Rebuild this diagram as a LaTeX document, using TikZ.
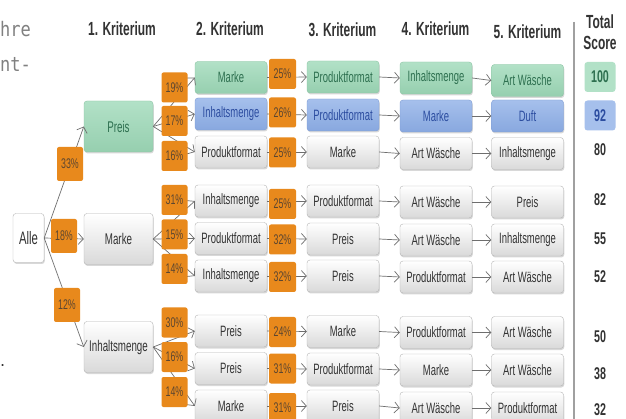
\documentclass[tikz,border=0pt]{standalone}
\usepackage{fontspec}
\setmainfont{Liberation Sans}[FakeStretch=0.63]
\newfontfamily\leftmono{DejaVu Sans Mono}[FakeStretch=0.85]
\newfontfamily\leftsans{DejaVu Sans}
\usetikzlibrary{arrows.meta,shadows}
\definecolor{linegray}{HTML}{6E6E6E}
\definecolor{boxborder}{HTML}{B4B4B4}
\definecolor{graybot}{HTML}{D9D9D9}
\definecolor{graytext}{HTML}{333333}
\definecolor{grntop}{HTML}{B2E1C7}
\definecolor{grnbot}{HTML}{96CFAF}
\definecolor{grnborder}{HTML}{8CC4A4}
\definecolor{grntext}{HTML}{2E7050}
\definecolor{blutop}{HTML}{A6C0EC}
\definecolor{blubot}{HTML}{88A8DF}
\definecolor{bluborder}{HTML}{7E9CD4}
\definecolor{blutext}{HTML}{2C4DA0}
\definecolor{orng}{HTML}{E8891C}
\definecolor{pcttext}{HTML}{5C4630}
\definecolor{sepgray}{HTML}{A0A0A0}
\definecolor{lefttext}{HTML}{808080}
\tikzset{
  base/.style={rounded corners=3pt, minimum width=72pt, minimum height=32pt, inner sep=1pt,
    font=\fontsize{15}{17}\selectfont,
    drop shadow={opacity=0.3,shadow xshift=0.8pt,shadow yshift=-1.5pt}},
  graybox/.style={base, draw=boxborder, top color=white, bottom color=graybot, text=graytext},
  greenbox/.style={base, draw=grnborder, top color=grntop, bottom color=grnbot, text=grntext},
  bluebox/.style={base, draw=bluborder, top color=blutop, bottom color=blubot, text=blutext},
  lonebox/.style={minimum width=69pt, minimum height=51pt, font=\fontsize{15.5}{17}\selectfont},
  pct/.style={fill=orng, rounded corners=2pt, minimum width=26pt, minimum height=30pt, inner sep=0pt,
    text=pcttext, font=\fontsize{14}{16}\selectfont},
  pctbig/.style={pct, minimum height=34pt},
  conn/.style={draw=linegray, line width=0.7pt, -{Straight Barb[length=5pt,width=11pt,line width=0.7pt]}},
  head/.style={font=\bfseries\fontsize{19}{21}\selectfont, text=graytext, anchor=base, inner sep=0pt},
  score/.style={font=\bfseries\fontsize{17}{19}\selectfont, text=graytext, inner sep=0pt},
  scorebox/.style={rounded corners=3pt, minimum width=31pt, minimum height=30pt, inner sep=0pt,
    font=\bfseries\fontsize{17}{19}\selectfont},
  lefttxt/.style={font=\leftmono\fontsize{20}{22}\selectfont, text=lefttext, anchor=base west, inner sep=0pt}
}
\begin{document}
\begin{tikzpicture}[x=1pt,y=-1pt]
\useasboundingbox (0,0) rectangle (626,419);
\fill[white] (0,0) rectangle (626,419);
% text at the left edge
\node[lefttxt] (lt1) at (0,37) {hre};
\node[lefttxt] (lt2) at (0,72) {nt-};
\node[lefttxt, font=\leftsans\fontsize{16}{18}\selectfont, text=graytext] (lt3) at (0,366) {.};
% headers
\node[head] (h1) at (122,36) {1. Kriterium};
\node[head] (h2) at (230,36) {2. Kriterium};
\node[head] (h3) at (342.5,36.5) {3. Kriterium};
\node[head] (h4) at (435.5,36) {4. Kriterium};
\node[head] (h5) at (527.5,39) {5. Kriterium};
\node[head] (ht1) at (600,29) {Total};
\node[head] (ht2) at (600,50) {Score};
% separator
\coordinate (sepT) at (574,22);
\coordinate (sepB) at (574,419);
\draw[sepgray, line width=1.2pt] (sepT) -- (sepB);
% root and level 1
\node[graybox, top color=white, bottom color=white, minimum width=31pt, minimum height=49pt, font=\fontsize{18}{20}\selectfont] (alle) at (28.5,238) {Alle};
\node[greenbox, lonebox] (p) at (118.5,126.5) {Preis};
\node[graybox, lonebox] (m) at (118.5,239) {Marke};
\node[graybox, lonebox] (i) at (118.5,347) {Inhaltsmenge};
% row 1
\node[greenbox] (r1b) at (231,77.5) {Marke};
\node[greenbox] (r1c) at (343,77) {Produktformat};
\node[greenbox] (r1d) at (436,78) {Inhaltsmenge};
\node[greenbox] (r1e) at (527.5,80.5) {Art Wäsche};
% row 2
\node[bluebox] (r2b) at (231,114) {Inhaltsmenge};
\node[bluebox] (r2c) at (343,115) {Produktformat};
\node[bluebox] (r2d) at (436,116) {Marke};
\node[bluebox] (r2e) at (527.5,116) {Duft};
% row 3
\node[graybox] (r3b) at (231,152) {Produktformat};
\node[graybox] (r3c) at (343,152) {Marke};
\node[graybox] (r3d) at (436,153.5) {Art Wäsche};
\node[graybox] (r3e) at (527.5,153.5) {Inhaltsmenge};
% row 4
\node[graybox] (r4b) at (231,201) {Inhaltsmenge};
\node[graybox] (r4c) at (343,201) {Produktformat};
\node[graybox] (r4d) at (436,202) {Art Wäsche};
\node[graybox] (r4e) at (527.5,202) {Preis};
% row 5
\node[graybox] (r5b) at (231,238.5) {Produktformat};
\node[graybox] (r5c) at (343,239) {Preis};
\node[graybox] (r5d) at (436,240) {Art Wäsche};
\node[graybox] (r5e) at (527.5,240) {Inhaltsmenge};
% row 6
\node[graybox] (r6b) at (231,276) {Inhaltsmenge};
\node[graybox] (r6c) at (343,276) {Preis};
\node[graybox] (r6d) at (436,277) {Produktformat};
\node[graybox] (r6e) at (527.5,277) {Art Wäsche};
% row 7
\node[graybox] (r7b) at (231,331) {Preis};
\node[graybox] (r7c) at (343,331.5) {Marke};
\node[graybox] (r7d) at (436,332.5) {Produktformat};
\node[graybox] (r7e) at (527.5,332.5) {Art Wäsche};
% row 8
\node[graybox] (r8b) at (231,368.5) {Preis};
\node[graybox] (r8c) at (343,369) {Produktformat};
\node[graybox] (r8d) at (436,370) {Marke};
\node[graybox] (r8e) at (527.5,370) {Art Wäsche};
% row 9
\node[graybox] (r9b) at (231,406) {Marke};
\node[graybox] (r9c) at (343,406) {Preis};
\node[graybox] (r9d) at (436,408) {Art Wäsche};
\node[graybox] (r9e) at (527.5,408) {Produktformat};
% connectors
\draw[conn] (alle.east) -- (p.west);
\draw[conn] (alle.east) -- (m.west);
\draw[conn] (alle.east) -- (i.west);
\foreach \r in {1,2,3}{\draw[conn] (p.east) -- (r\r b.west);}
\foreach \r in {4,5,6}{\draw[conn] (m.east) -- (r\r b.west);}
\foreach \r in {7,8,9}{\draw[conn] (i.east) -- (r\r b.west);}
\foreach \r in {1,...,9}{
  \draw[conn] (r\r b.east) -- (r\r c.west);
  \draw[conn] (r\r c.east) -- (r\r d.west);
  \draw[conn] (r\r d.east) -- (r\r e.west);
}
% percentages level 1
\node[pctbig] (q1) at (70,164) {33\%};
\node[pctbig] (q2) at (64,236) {18\%};
\node[pctbig] (q3) at (67,305) {12\%};
% percentages level 2
\node[pct] (s1) at (174.5,87.5) {19\%};
\node[pct] (s2) at (174.5,121) {17\%};
\node[pct] (s3) at (174.5,156) {16\%};
\node[pct] (s4) at (174.5,200) {31\%};
\node[pct] (s5) at (174.5,234.5) {15\%};
\node[pct] (s6) at (174.5,269) {14\%};
\node[pct] (s7) at (174.5,322.5) {30\%};
\node[pct] (s8) at (174.5,357) {16\%};
\node[pct] (s9) at (174.5,392) {14\%};
% percentages level 3
\node[pct, minimum width=27pt] (t1) at (282.5,74) {25\%};
\node[pct, minimum width=27pt] (t2) at (282.5,112.5) {26\%};
\node[pct, minimum width=27pt] (t3) at (282.5,152.5) {25\%};
\node[pct, minimum width=27pt] (t4) at (282.5,204) {25\%};
\node[pct, minimum width=27pt] (t5) at (282.5,239.5) {32\%};
\node[pct, minimum width=27pt] (t6) at (282.5,277) {32\%};
\node[pct, minimum width=27pt] (t7) at (282.5,332) {24\%};
\node[pct, minimum width=27pt] (t8) at (282.5,368.5) {31\%};
\node[pct, minimum width=27pt] (t9) at (282.5,408) {31\%};
% scores
\node[scorebox, fill=grntop, text=grntext] (sc1) at (600,77) {100};
\node[scorebox, fill=blutop, text=blutext] (sc2) at (600,115.5) {92};
\node[score] (sc3) at (600,150) {80};
\node[score] (sc4) at (600,200) {82};
\node[score] (sc5) at (600,239) {55};
\node[score] (sc6) at (600,276.5) {52};
\node[score] (sc7) at (600,337) {50};
\node[score] (sc8) at (600,374) {38};
\node[score] (sc9) at (600,409.5) {32};
\end{tikzpicture}
\end{document}
